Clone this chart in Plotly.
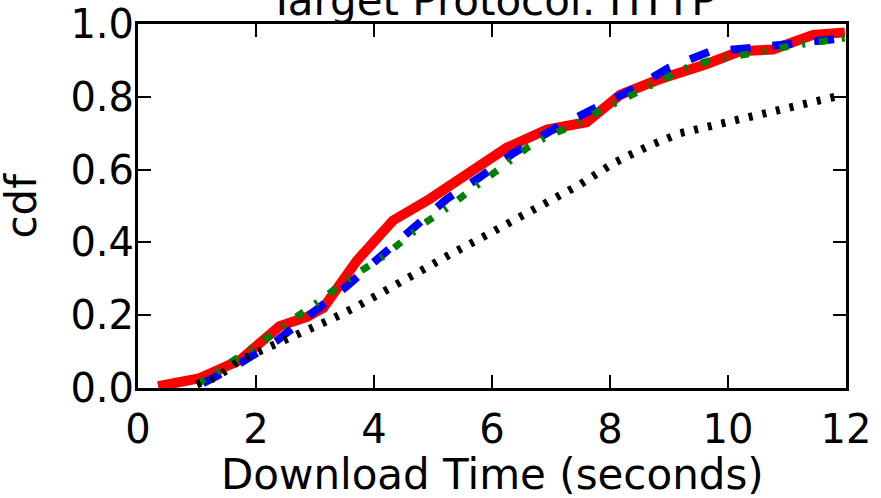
import plotly.graph_objects as go

# Red solid series
red_x = [0.34, 1.05, 1.73, 2.4, 2.86, 3.14, 3.71, 4.32, 4.95, 5.5, 5.97, 6.25, 6.93, 7.6, 8.17, 8.8, 9.64, 10.2, 10.76, 11.44, 11.98]
red_y = [0.005, 0.027, 0.077, 0.17, 0.195, 0.22, 0.35, 0.46, 0.52, 0.58, 0.63, 0.66, 0.71, 0.73, 0.805, 0.846, 0.89, 0.925, 0.93, 0.97, 0.977]

# Blue dashed series
blue_x = [1.1, 1.68, 2.35, 2.97, 3.54, 4.1, 4.66, 5.24, 5.8, 6.36, 7.03, 7.7, 8.37, 9.0, 9.7, 10.4, 11.17, 11.9]
blue_y = [0.013, 0.063, 0.13, 0.21, 0.28, 0.36, 0.44, 0.52, 0.58, 0.645, 0.71, 0.765, 0.82, 0.88, 0.925, 0.934, 0.948, 0.96]

# Green dash-dot series
green_x = [1.0, 1.39, 1.76, 2.1, 2.44, 2.78, 3.14, 3.48, 3.85, 4.19, 4.53, 4.86, 5.2, 5.58, 5.92, 6.25, 6.6, 6.98, 7.37, 7.75, 8.14, 8.54, 8.9, 9.3, 9.7, 10.1, 10.54, 10.97, 11.4, 11.8, 12.0]
green_y = [0.01, 0.05, 0.09, 0.127, 0.168, 0.205, 0.247, 0.29, 0.33, 0.365, 0.41, 0.453, 0.49, 0.535, 0.575, 0.62, 0.66, 0.695, 0.72, 0.755, 0.787, 0.82, 0.846, 0.88, 0.9, 0.91, 0.923, 0.937, 0.948, 0.959, 0.962]

# Black dotted series
black_x = [1.0, 1.34, 1.73, 2.35, 2.8, 3.25, 3.7, 4.15, 4.72, 5.28, 5.85, 6.36, 6.93, 7.5, 8.05, 8.63, 9.19, 9.75, 10.3, 10.9, 11.44, 11.95]
black_y = [0.01, 0.03, 0.077, 0.12, 0.155, 0.187, 0.223, 0.265, 0.315, 0.366, 0.415, 0.46, 0.51, 0.56, 0.617, 0.663, 0.70, 0.72, 0.745, 0.765, 0.786, 0.805]

x_ticks = [0, 2, 4, 6, 8, 10, 12]
y_ticks = [0.0, 0.2, 0.4, 0.6, 0.8, 1.0]
title_text = "Target Protocol: HTTP"
x_label = "Download Time (seconds)"
y_label = "cdf"

FONT = "DejaVu Sans"

fig = go.Figure()
fig.add_trace(go.Scatter(x=red_x, y=red_y, mode="lines",
                         line=dict(color="#ff0000", width=10), showlegend=False))
fig.add_trace(go.Scatter(x=blue_x, y=blue_y, mode="lines",
                         line=dict(color="#0000ff", width=8, dash="20px,22px"), showlegend=False))
fig.add_trace(go.Scatter(x=green_x, y=green_y, mode="lines",
                         line=dict(color="#008000", width=7, dash="9px,14px,3px,14px"), showlegend=False))
fig.add_trace(go.Scatter(x=black_x, y=black_y, mode="lines",
                         line=dict(color="#000000", width=8, dash="4px,10px"), showlegend=False))

axis_common = dict(
    showgrid=False, zeroline=False, showline=True, linecolor="black", linewidth=3,
    mirror="ticks", ticks="inside", ticklen=13, tickwidth=2, tickcolor="black",
    tickfont=dict(family=FONT, size=40, color="black"), automargin=False,
)

fig.update_xaxes(range=[0, 12], tickvals=x_ticks, ticktext=[str(v) for v in x_ticks],
                 ticklabelstandoff=4, **axis_common)
fig.update_yaxes(range=[0, 1], tickvals=y_ticks, ticktext=[f"{v:.1f}" for v in y_ticks],
                 ticklabelstandoff=-7, **axis_common)

fig.add_annotation(text=title_text, xref="paper", yref="paper", x=0.5, y=1.0,
                   xanchor="center", yanchor="bottom", yshift=-3, showarrow=False,
                   font=dict(family=FONT, size=42, color="black"))
fig.add_annotation(text=x_label, xref="paper", yref="paper", x=0.5, y=0,
                   xanchor="center", yanchor="top", yshift=-60, showarrow=False,
                   font=dict(family=FONT, size=42, color="black"))
fig.add_annotation(text=y_label, xref="paper", yref="paper", x=0, y=0.5,
                   xanchor="right", yanchor="middle", xshift=-91, textangle=-90, showarrow=False,
                   font=dict(family=FONT, size=42, color="black"))

fig.update_layout(width=881, height=498, paper_bgcolor="white", plot_bgcolor="white",
                  margin=dict(l=138, r=35, t=24, b=110))

fig.write_html("out.html", config={"displayModeBar": False},
               post_script="document.body.style.margin='0';")
